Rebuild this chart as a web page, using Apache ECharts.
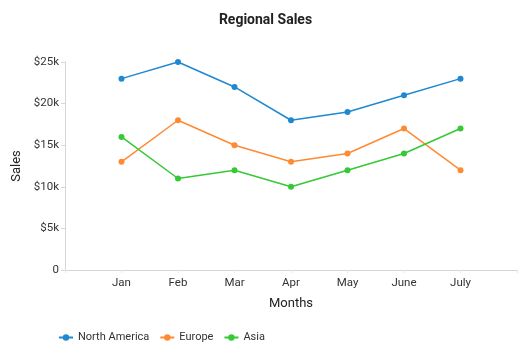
<!DOCTYPE html>
<html><head><meta charset="utf-8">
<script src="https://cdn.jsdelivr.net/npm/echarts@6/dist/echarts.min.js"></script>
<style>html,body{margin:0;padding:0;background:#fff}#c{width:531px;height:354px}</style>
</head><body><div id="c"></div>
<script>
const categories = ['Jan', 'Feb', 'Mar', 'Apr', 'May', 'June', 'July'];
const northAmerica = [23000, 25000, 22000, 18000, 19000, 21000, 23000];
const europe = [13000, 18000, 15000, 13000, 14000, 17000, 12000];
const asia = [16000, 11000, 12000, 10000, 12000, 14000, 17000];
const yTicks = [0, 5000, 10000, 15000, 20000, 25000];

const pad = arr => [null].concat(arr, [null]);
const chart = echarts.init(document.getElementById('c'), null, {renderer: 'canvas'});
const font = 'Roboto, sans-serif';
const mk = (name, data, color) => ({
  name, type: 'line', data: pad(data), symbol: 'circle', symbolSize: 6,
  lineStyle: {width: 1.5, color}, itemStyle: {color}, connectNulls: false
});
chart.setOption({
  animation: false,
  textStyle: {fontFamily: font},
  title: {text: 'Regional Sales', left: 'center', top: 8,
    textStyle: {fontSize: 14, fontWeight: 'bold', color: '#222', fontFamily: font}},
  grid: {left: 65, right: 14, top: 62, bottom: 84},
  legend: {top: 327, left: 53, itemWidth: 14, itemHeight: 8, itemGap: 10,
    textStyle: {fontSize: 11, color: '#333', fontFamily: font},
    data: ['North America', 'Europe', 'Asia']},
  xAxis: {type: 'category', boundaryGap: false, data: pad(categories).map(v => v === null ? '' : v),
    name: 'Months', nameLocation: 'middle', nameGap: 27,
    nameTextStyle: {fontSize: 13, color: '#222', fontFamily: font},
    axisLine: {lineStyle: {color: '#d6d6d6'}},
    axisTick: {show: true, length: 3, lineStyle: {color: '#e6e6e6'}},
    axisLabel: {fontSize: 11.5, color: '#333', margin: 7, fontFamily: font},
    splitLine: {show: false}},
  yAxis: {type: 'value', min: yTicks[0], max: yTicks[yTicks.length - 1], interval: 5000,
    name: 'Sales', nameLocation: 'middle', nameGap: 40, nameRotate: 90,
    nameTextStyle: {fontSize: 13, color: '#222', fontFamily: font},
    axisLine: {show: true, lineStyle: {color: '#d6d6d6'}},
    axisTick: {show: true, length: 4, lineStyle: {color: '#d6d6d6'}},
    axisLabel: {fontSize: 11.5, color: '#333', margin: 6, fontFamily: font,
      formatter: v => v === 0 ? '0' : '$' + (v / 1000) + 'k'},
    splitLine: {show: false}},
  series: [
    mk('North America', northAmerica, '#1f88d0'),
    mk('Europe', europe, '#ff8a33'),
    mk('Asia', asia, '#35c935')
  ]
});
</script></body></html>
